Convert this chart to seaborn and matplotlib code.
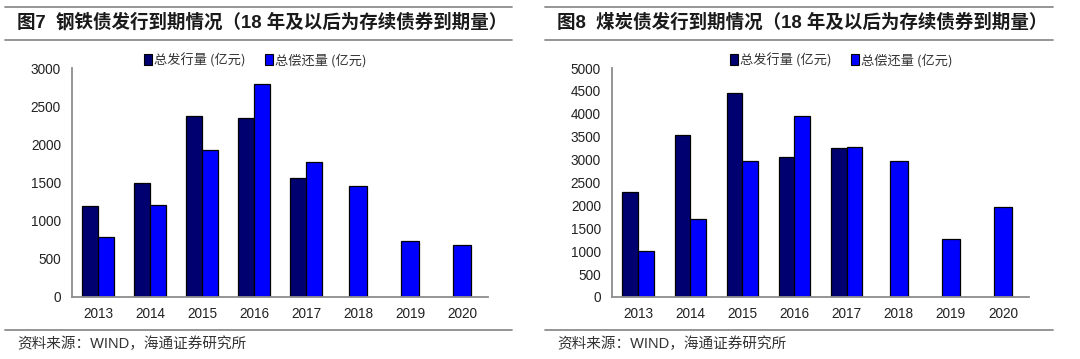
"""
Steel / coal bond issuance vs maturity, two bar panels side by side.
"""

import matplotlib
matplotlib.use("Agg")
import matplotlib.pyplot as plt
from matplotlib.lines import Line2D
from matplotlib.patches import Patch
import seaborn as sns
import pandas as pd

# ---- data (亿元) ----
years = ["2013", "2014", "2015", "2016", "2017", "2018", "2019", "2020"]
series_names = ["总发行量 (亿元)", "总偿还量 (亿元)"]

steel_issue = [1190, 1500, 2370, 2350, 1560, None, None, None]
steel_repay = [790, 1210, 1920, 2790, 1770, 1460, 740, 680]

coal_issue = [2290, 3540, 4460, 3060, 3250, None, None, None]
coal_repay = [1010, 1710, 2960, 3950, 3280, 2960, 1260, 1970]

steel_title = "图7  钢铁债发行到期情况（18 年及以后为存续债券到期量）"
coal_title = "图8  煤炭债发行到期情况（18 年及以后为存续债券到期量）"
source_text = "资料来源：WIND，海通证券研究所"

NAVY = "#000070"
BLUE = "#0000FF"
GRID_GRAY = "#8c8c8c"

sns.set_style("white")
plt.rcParams["font.family"] = ["Liberation Sans", "Noto Sans CJK SC", "DejaVu Sans"]


def split_frames(issue, repay):
    """Years with both series go side by side, the later ones only have repay."""
    pair_rows, single_rows = [], []
    for y, iss, rep in zip(years, issue, repay):
        if iss is not None:
            pair_rows.append({"year": y, "series": series_names[0], "value": iss})
            pair_rows.append({"year": y, "series": series_names[1], "value": rep})
        else:
            single_rows.append({"year": y, "value": rep})
    return pd.DataFrame(pair_rows), pd.DataFrame(single_rows)


def draw_panel(ax, issue, repay, ymax, ystep, legend_x):
    pair_df, single_df = split_frames(issue, repay)

    sns.barplot(data=pair_df, x="year", y="value", hue="series", order=years,
                hue_order=series_names, palette=[NAVY, BLUE], width=0.6,
                saturation=1, edgecolor="black", linewidth=0.9, ax=ax,
                legend=False)
    sns.barplot(data=single_df, x="year", y="value", order=years, color=BLUE,
                width=0.34, saturation=1, edgecolor="black", linewidth=0.9,
                ax=ax)

    ax.set_xlim(-0.5, len(years) - 0.5)
    ax.set_ylim(0, ymax)
    ax.set_yticks(range(0, ymax + 1, ystep))
    ax.set_xlabel("")
    ax.set_ylabel("")

    # Excel style: labels in the middle, tick marks between categories
    ax.set_xticks(range(len(years)))
    ax.set_xticklabels(years)
    ax.set_xticks([i - 0.5 for i in range(len(years) + 1)], minor=True)
    ax.tick_params(axis="x", which="major", length=0, pad=7, labelsize=9.8,
                   labelcolor="#222222")
    ax.tick_params(axis="x", which="minor", length=4, width=1.2,
                   color=GRID_GRAY, direction="out")
    ax.tick_params(axis="y", length=4, width=1.2, color=GRID_GRAY,
                   direction="out", labelsize=9.8, labelcolor="#222222", pad=4)

    for side in ("top", "right"):
        ax.spines[side].set_visible(False)
    for side in ("left", "bottom"):
        ax.spines[side].set_color(GRID_GRAY)
        ax.spines[side].set_linewidth(1.3)

    handles = [Patch(facecolor=NAVY, edgecolor="black", linewidth=0.8),
               Patch(facecolor=BLUE, edgecolor="black", linewidth=0.8)]
    ax.legend(handles, series_names, loc="center", ncol=2, frameon=False,
              bbox_to_anchor=(legend_x, 1.035), handlelength=0.6,
              handleheight=0.8, handletextpad=0.15, columnspacing=1.5,
              prop={"family": ["Noto Sans CJK SC"], "size": 9.5},
              labelcolor="#333333")


fig = plt.figure(figsize=(10.8, 3.59), dpi=100)

ax_steel = fig.add_axes([72 / 1080, 1 - 297 / 359, 416 / 1080, 229 / 359])
ax_coal = fig.add_axes([612 / 1080, 1 - 297 / 359, 417 / 1080, 229 / 359])

draw_panel(ax_steel, steel_issue, steel_repay, 3000, 500, 0.44)
draw_panel(ax_coal, coal_issue, coal_repay, 5000, 500, 0.55)

# header / footer rules and texts
for x0, x1, title in ((5, 512, steel_title), (545, 1053, coal_title)):
    for y in (7, 40, 330):
        fig.add_artist(Line2D([x0 / 1080, x1 / 1080], [1 - y / 359] * 2,
                              color=GRID_GRAY, linewidth=1.3))
    fig.text((x0 + 12) / 1080, 1 - 23 / 359, title, fontsize=13.3,
             fontweight="bold", color="#1a1a1a", va="center", ha="left")
    fig.text((x0 + 12) / 1080, 1 - 344 / 359, source_text, fontsize=10.5,
             color="#333333", va="center", ha="left")

fig.savefig("out.png", dpi=100)
plt.close(fig)
